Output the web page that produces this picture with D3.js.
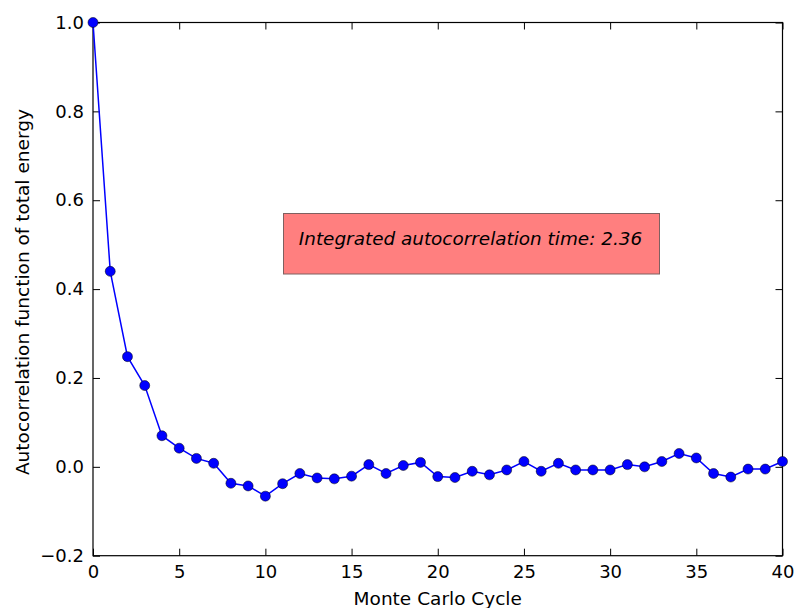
<!DOCTYPE html>
<html>
<head>
<meta charset="utf-8">
<script src="https://cdn.jsdelivr.net/npm/d3@7"></script>
<style>
  body { margin: 0; background: #fff; }
  text { font-family: "DejaVu Sans", sans-serif; }
</style>
</head>
<body>
<script>
// Size of the figure and the plot area inside it
const w = 795;
const h = 608;
const margin = { top: 22.5, right: 12.5, bottom: 52.3, left: 93 };

// Data
const cycles = d3.range(0, 41);
const acf = [
  1.0, 0.44, 0.248, 0.183, 0.070, 0.042, 0.019, 0.008, -0.037, -0.043,
  -0.066, -0.038, -0.015, -0.025, -0.027, -0.021, 0.005, -0.015, 0.003, 0.010,
  -0.022, -0.024, -0.010, -0.018, -0.007, 0.012, -0.010, 0.008, -0.007, -0.007,
  -0.007, 0.005, 0.0, 0.012, 0.030, 0.020, -0.015, -0.023, -0.005, -0.005,
  0.012,
];
const xTicks = [0, 5, 10, 15, 20, 25, 30, 35, 40];
const yTicks = [-0.2, 0.0, 0.2, 0.4, 0.6, 0.8, 1.0];
const note = "Integrated autocorrelation time: 2.36";

const svg = d3.select("body").append("svg").attr("width", w).attr("height", h);

const x = d3.scaleLinear().domain([0, 40]).range([margin.left, w - margin.right]);
const y = d3.scaleLinear().domain([-0.2, 1.0]).range([h - margin.bottom, margin.top]);

const fmtY = (d) => d3.format(".1f")(d).replace("-", "\u2212");

// Axes: classic matplotlib look, ticks pointing inwards on all four sides
const tickLen = 7;
svg.append("g")
  .attr("transform", `translate(0,${y(-0.2)})`)
  .call(d3.axisBottom(x).tickValues(xTicks).tickSizeInner(-tickLen).tickSizeOuter(0).tickPadding(9.5))
  .call((g) => g.select(".domain").remove());
svg.append("g")
  .attr("transform", `translate(0,${y(1.0)})`)
  .call(d3.axisTop(x).tickValues(xTicks).tickSizeInner(-tickLen).tickSizeOuter(0).tickFormat(""))
  .call((g) => g.select(".domain").remove());
svg.append("g")
  .attr("transform", `translate(${x(0)},0)`)
  .call(d3.axisLeft(y).tickValues(yTicks).tickSizeInner(-tickLen).tickSizeOuter(0).tickPadding(9).tickFormat(fmtY))
  .call((g) => g.select(".domain").remove());
svg.append("g")
  .attr("transform", `translate(${x(40)},0)`)
  .call(d3.axisRight(y).tickValues(yTicks).tickSizeInner(-tickLen).tickSizeOuter(0).tickFormat(""))
  .call((g) => g.select(".domain").remove());

svg.selectAll(".tick text").attr("font-size", 18).attr("fill", "#000").style("font-family", "DejaVu Sans, sans-serif");
svg.selectAll(".tick line").attr("stroke", "#000");

// Frame
svg.append("rect")
  .attr("x", x(0))
  .attr("y", y(1.0))
  .attr("width", x(40) - x(0))
  .attr("height", y(-0.2) - y(1.0))
  .attr("fill", "none")
  .attr("stroke", "#000")
  .attr("stroke-width", 1.2);

// Line and markers
const line = d3.line()
  .x((d, i) => x(cycles[i]))
  .y((d) => y(d));

svg.append("path")
  .datum(acf)
  .attr("d", line)
  .attr("fill", "none")
  .attr("stroke", "#0000ff")
  .attr("stroke-width", 1.5);

svg.selectAll("circle")
  .data(acf)
  .enter()
  .append("circle")
  .attr("cx", (d, i) => x(cycles[i]))
  .attr("cy", (d) => y(d))
  .attr("r", 5)
  .attr("fill", "#0000ff")
  .attr("stroke", "#000")
  .attr("stroke-width", 0.5);

// Annotation box
svg.append("rect")
  .attr("x", 283.5)
  .attr("y", 213.5)
  .attr("width", 376)
  .attr("height", 60.5)
  .attr("fill", "#ff7f7f")
  .attr("stroke", "#7f6060")
  .attr("stroke-width", 1);

svg.append("text")
  .attr("x", 470.5)
  .attr("y", 245)
  .attr("text-anchor", "middle")
  .attr("font-size", 18.4)
  .attr("font-style", "italic")
  .attr("fill", "#000")
  .text(note);

// Axis labels
svg.append("text")
  .attr("x", (x(0) + x(40)) / 2)
  .attr("y", 605)
  .attr("text-anchor", "middle")
  .attr("font-size", 18.5)
  .text("Monte Carlo Cycle");

svg.append("text")
  .attr("transform", `translate(29,${(y(-0.2) + y(1.0)) / 2 + 3}) rotate(-90)`)
  .attr("text-anchor", "middle")
  .attr("font-size", 18.5)
  .text("Autocorrelation function of total energy");
</script>
</body>
</html>
